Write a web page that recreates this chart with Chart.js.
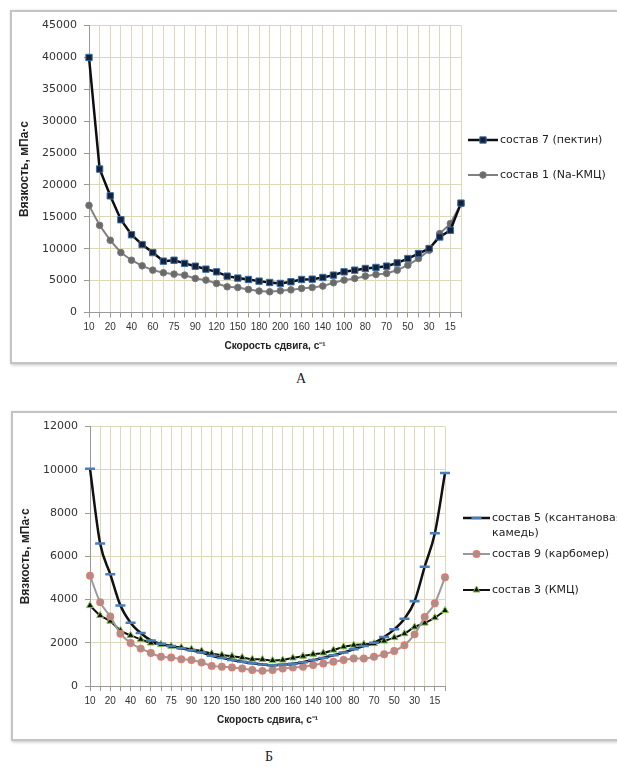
<!DOCTYPE html>
<html>
<head>
<meta charset="utf-8">
<script src="https://cdn.jsdelivr.net/npm/chart.js@4.4.1/dist/chart.umd.min.js"></script>
<style>
html, body { margin: 0; padding: 0; background: #fff; width: 617px; height: 767px; overflow: hidden; position: relative; }
.frame { position: absolute; border: 2px solid #c4c4c4; box-shadow: 1px 1px 3px rgba(0,0,0,.25); background: #fff; }
canvas { position: absolute; }
.cap { position: absolute; font-family: "Liberation Serif", serif; font-size: 14px; color: #222; }
</style>
</head>
<body>
<div class="frame" style="left:10px;top:10px;width:612px;height:350px"></div>
<canvas id="chartA" width="605" height="350" style="left:12px;top:12px;width:605px;height:350px"></canvas>
<div class="cap" style="left:296px;top:371px">А</div>

<div class="frame" style="left:11px;top:411px;width:612px;height:326px"></div>
<canvas id="chartB" width="604" height="326" style="left:13px;top:413px;width:604px;height:326px"></canvas>
<div class="cap" style="left:265px;top:749px">Б</div>

<script>
// shear rate steps: up to 200 and back down
const shearRates = ['10','15','20','30','40','50','60','70','75','80','90','100','120','140','150','160','180','200',
                    '200','180','160','150','140','120','100','90','80','75','70','60','50','40','30','20','15','10'];

// chart A (viscosity, mPa*s)
const pectin7 = [40000, 22500, 18300, 14550, 12200, 10650, 9400, 8050, 8200, 7700, 7260, 6800, 6380, 5700, 5400, 5180, 4920, 4710,
                 4560, 4820, 5180, 5230, 5490, 5860, 6380, 6640, 6900, 7060, 7270, 7780, 8460, 9250, 10030, 11850, 12900, 17160];
const naKmc1 = [16800, 13670, 11330, 9400, 8200, 7320, 6640, 6230, 6020, 5860, 5340, 5080, 4560, 4030, 3930, 3620, 3360, 3250,
                3400, 3550, 3780, 3930, 4140, 4660, 5080, 5340, 5700, 5970, 6120, 6640, 7420, 8460, 9770, 12370, 13940, 17060];

// chart B
const xanthan5 = [10050, 6590, 5170, 3720, 2930, 2450, 2110, 1950, 1850, 1750, 1650, 1550, 1400, 1300, 1200, 1120, 1050, 1000,
                  960, 980, 1030, 1100, 1200, 1300, 1420, 1550, 1700, 1850, 2000, 2270, 2620, 3110, 3920, 5520, 7070, 9850];
const carbomer9 = [5100, 3880, 3220, 2420, 1990, 1730, 1530, 1350, 1320, 1240, 1200, 1090, 930, 890, 860, 810, 740, 700,
                   740, 810, 860, 890, 970, 1040, 1120, 1200, 1270, 1270, 1350, 1470, 1620, 1890, 2390, 3190, 3830, 5030];
const kmc3 = [3720, 3260, 3000, 2570, 2340, 2160, 1990, 1920, 1840, 1780, 1700, 1620, 1500, 1430, 1380, 1320, 1240, 1230,
              1180, 1200, 1300, 1380, 1470, 1530, 1660, 1810, 1890, 1930, 1960, 2080, 2240, 2420, 2730, 2910, 3160, 3490];

const namesA = ['состав 7 (пектин)', 'состав 1 (Na-КМЦ)'];
const namesB = ['состав 5 (ксантановая камедь)', 'состав 9 (карбомер)', 'состав 3 (КМЦ)'];

const xTitle = 'Скорость сдвига, с⁻¹';
const yTitle = 'Вязкость, мПа·с';
const yMaxA = 45000, yStepA = 5000;
const yMaxB = 12000, yStepB = 2000;

const gridColor = '#ddd8b8';
const axisColor = '#9a9a9a';

function wrapText(ctx, text, maxW) {
    let words = text.split(' ');
    let lines = [];
    let cur = '';
    for (let w of words) {
        let test = cur ? cur + ' ' + w : w;
        if (cur && ctx.measureText(test).width > maxW) {
            lines.push(cur);
            cur = w;
        } else {
            cur = test;
        }
    }
    lines.push(cur);
    return lines;
}

// excel-like legend: line segment with the marker in the middle
const sideLegend = {
    id: 'sideLegend',
    afterDraw(chart, args, opts) {
        const ctx = chart.ctx;
        ctx.save();
        ctx.font = '11px "DejaVu Sans"';
        ctx.textBaseline = 'middle';
        chart.data.datasets.forEach((ds, k) => {
            const y = opts.rows[k];
            const x0 = opts.x, x1 = opts.x + opts.lineLen;
            ctx.strokeStyle = ds.borderColor;
            ctx.lineWidth = ds.borderWidth;
            ctx.beginPath();
            ctx.moveTo(x0, y);
            ctx.lineTo(x1, y);
            ctx.stroke();
            ctx.fillStyle = ds.pointBackgroundColor;
            ctx.strokeStyle = ds.pointBorderColor;
            ctx.lineWidth = ds.pointBorderWidth;
            Chart.helpers.drawPoint(ctx, {
                pointStyle: ds.pointStyle, radius: ds.pointRadius,
                borderWidth: ds.pointBorderWidth, rotation: 0
            }, (x0 + x1) / 2, y);
            ctx.fillStyle = '#222';
            wrapText(ctx, ds.label, opts.maxWidth).forEach((line, j) => {
                ctx.fillText(line, x1 + 2, y + j * 15);
            });
        });
        ctx.restore();
    }
};

function makeScales(yMax, yStep) {
    return {
        x: {
            offset: false,
            ticks: {
                autoSkip: false, maxRotation: 0, minRotation: 0, padding: 4,
                color: '#333', font: { family: '"Liberation Sans"', size: 10 },
                callback: function (v, i) { return i % 2 ? '' : this.getLabelForValue(v); }
            },
            grid: { color: gridColor, tickColor: axisColor, tickLength: 5 },
            border: { color: axisColor },
            title: {
                display: true, text: xTitle, color: '#222', padding: { top: 6, bottom: 0 },
                font: { family: '"Liberation Sans"', size: 10, weight: 'bold' }
            },
            afterFit: s => { s.height = 40; }
        },
        y: {
            min: 0, max: yMax,
            ticks: {
                stepSize: yStep, padding: 7, color: '#333',
                font: { family: '"DejaVu Sans"', size: 11 },
                callback: v => String(v)
            },
            grid: { color: gridColor, tickColor: axisColor, tickLength: 5 },
            border: { color: axisColor },
            title: {
                display: true, text: yTitle, color: '#222', padding: { top: 3, bottom: 0 },
                font: { family: '"Liberation Sans"', size: 12, weight: 'bold' }
            },
            afterFit: s => { s.width = 75; }
        }
    };
}

new Chart('chartA', {
    type: 'line',
    data: {
        labels: shearRates,
        datasets: [{
            label: namesA[0], data: pectin7,
            borderColor: '#0d0d14', borderWidth: 2.5, tension: 0,
            pointStyle: 'rect', pointRadius: 4.5, pointBackgroundColor: '#15203a',
            pointBorderColor: '#3a6ea5', pointBorderWidth: 1
        }, {
            label: namesA[1], data: naKmc1,
            borderColor: '#808080', borderWidth: 2, tension: 0,
            pointStyle: 'circle', pointRadius: 3.3, pointBackgroundColor: '#6a6a6a',
            pointBorderColor: '#7a7a7a', pointBorderWidth: 1
        }]
    },
    options: {
        responsive: false,
        animation: false,
        layout: { padding: { left: 2, top: 12, right: 156, bottom: 9.5 } },
        scales: makeScales(yMaxA, yStepA),
        plugins: {
            legend: { display: false },
            tooltip: { enabled: false },
            sideLegend: { x: 456, lineLen: 30, rows: [128, 163], maxWidth: 150 }
        }
    },
    plugins: [sideLegend]
});

new Chart('chartB', {
    type: 'line',
    data: {
        labels: shearRates,
        datasets: [{
            label: namesB[0], data: xanthan5,
            borderColor: '#111111', borderWidth: 2.5, cubicInterpolationMode: 'monotone',
            pointStyle: 'line', pointRadius: 5, pointBackgroundColor: '#4a7ebb',
            pointBorderColor: '#4a7ebb', pointBorderWidth: 2.5
        }, {
            label: namesB[1], data: carbomer9,
            borderColor: '#9a9a9a', borderWidth: 2, cubicInterpolationMode: 'monotone',
            pointStyle: 'circle', pointRadius: 3.2, pointBackgroundColor: '#9c9494',
            pointBorderColor: '#e07b6e', pointBorderWidth: 1.5
        }, {
            label: namesB[2], data: kmc3,
            borderColor: '#111111', borderWidth: 2, cubicInterpolationMode: 'monotone',
            pointStyle: 'triangle', pointRadius: 4, pointBackgroundColor: '#111111',
            pointBorderColor: '#7cc242', pointBorderWidth: 1
        }]
    },
    options: {
        responsive: false,
        animation: false,
        layout: { padding: { left: 2, top: 12, right: 172, bottom: 13 } },
        scales: makeScales(yMaxB, yStepB),
        plugins: {
            legend: { display: false },
            tooltip: { enabled: false },
            sideLegend: { x: 450, lineLen: 27, rows: [105, 141, 177], maxWidth: 150 }
        }
    },
    plugins: [sideLegend]
});
</script>
</body>
</html>
